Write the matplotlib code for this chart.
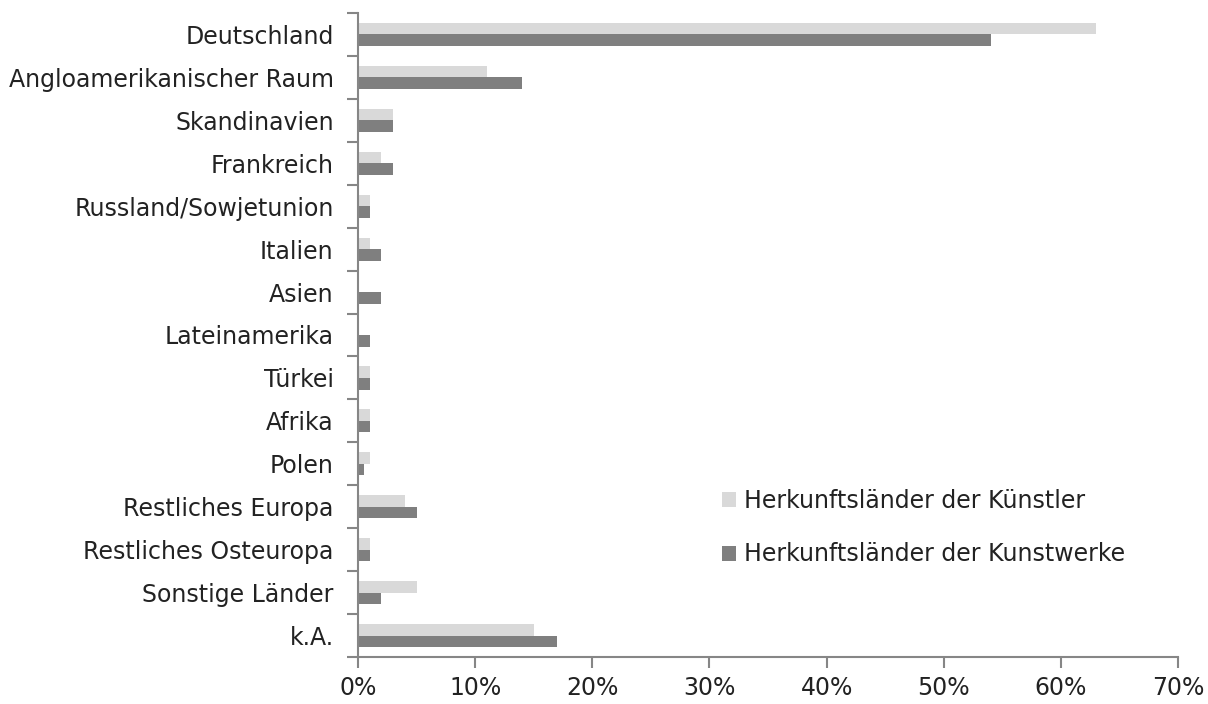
import matplotlib
matplotlib.use("Agg")
import matplotlib.pyplot as plt
import numpy as np
from matplotlib.ticker import FuncFormatter, FixedLocator
from matplotlib.patches import Patch

categories = [
    "Deutschland", "Angloamerikanischer Raum", "Skandinavien", "Frankreich",
    "Russland/Sowjetunion", "Italien", "Asien", "Lateinamerika", "Türkei",
    "Afrika", "Polen", "Restliches Europa", "Restliches Osteuropa",
    "Sonstige Länder", "k.A.",
]
kuenstler = [63, 11, 3, 2, 1, 1, 0, 0, 1, 1, 1, 4, 1, 5, 15]
kunstwerke = [54, 14, 3, 3, 1, 2, 2, 1, 1, 1, 0.5, 5, 1, 2, 17]
series_labels = ["Herkunftsländer der Künstler", "Herkunftsländer der Kunstwerke"]
xticks = [0, 10, 20, 30, 40, 50, 60, 70]

light = "#d9d9d9"
dark = "#7f7f7f"
axis_col = "#868686"
text_col = "#222222"
fs = 17

plt.rcParams["font.family"] = ["DejaVu Sans"]

fig = plt.figure(figsize=(12.08, 7.04), dpi=100)
ax = fig.add_axes([358 / 1208, 1 - 657 / 704, 820 / 1208, 644 / 704])

y = np.arange(len(categories))
h = 0.27
ax.barh(y - h / 2, kuenstler, height=h, color=light, edgecolor="none")
ax.barh(y + h / 2, kunstwerke, height=h, color=dark, edgecolor="none")

ax.set_xlim(0, 70)
ax.set_ylim(len(categories) - 0.5, -0.5)

ax.set_xticks(xticks)
ax.xaxis.set_major_formatter(FuncFormatter(lambda v, p: f"{v:.0f}%"))
# category boundaries carry the tick marks, category centres carry the labels
ax.yaxis.set_major_locator(FixedLocator(np.arange(-0.5, len(categories), 1.0)))
ax.yaxis.set_major_formatter(FuncFormatter(lambda v, p: ""))
ax.yaxis.set_minor_locator(FixedLocator(y))
ax.set_yticklabels(categories, minor=True)
ax.tick_params(axis="y", which="minor", length=0, pad=17.5, labelsize=fs, labelcolor=text_col)
ax.tick_params(axis="y", which="major", length=8, width=1.5, color=axis_col, direction="out")
ax.tick_params(axis="x", which="major", length=8, width=1.5, color=axis_col, direction="out",
               labelsize=fs, labelcolor=text_col, pad=6)

for s in ("top", "right"):
    ax.spines[s].set_visible(False)
for s in ("left", "bottom"):
    ax.spines[s].set_color(axis_col)
    ax.spines[s].set_linewidth(1.5)

handles = [Patch(facecolor=light, edgecolor="none"), Patch(facecolor=dark, edgecolor="none")]
leg = ax.legend(handles, series_labels, loc="upper left",
                bbox_to_anchor=(703 / 1208, 1 - 470 / 704),
                bbox_transform=fig.transFigure, frameon=False, fontsize=fs,
                handlelength=0.6, handleheight=0.6, handletextpad=0.35, labelspacing=1.25,
                borderpad=0.3)
for t in leg.get_texts():
    t.set_color(text_col)

fig.savefig("out.png", dpi=100, facecolor="white")
